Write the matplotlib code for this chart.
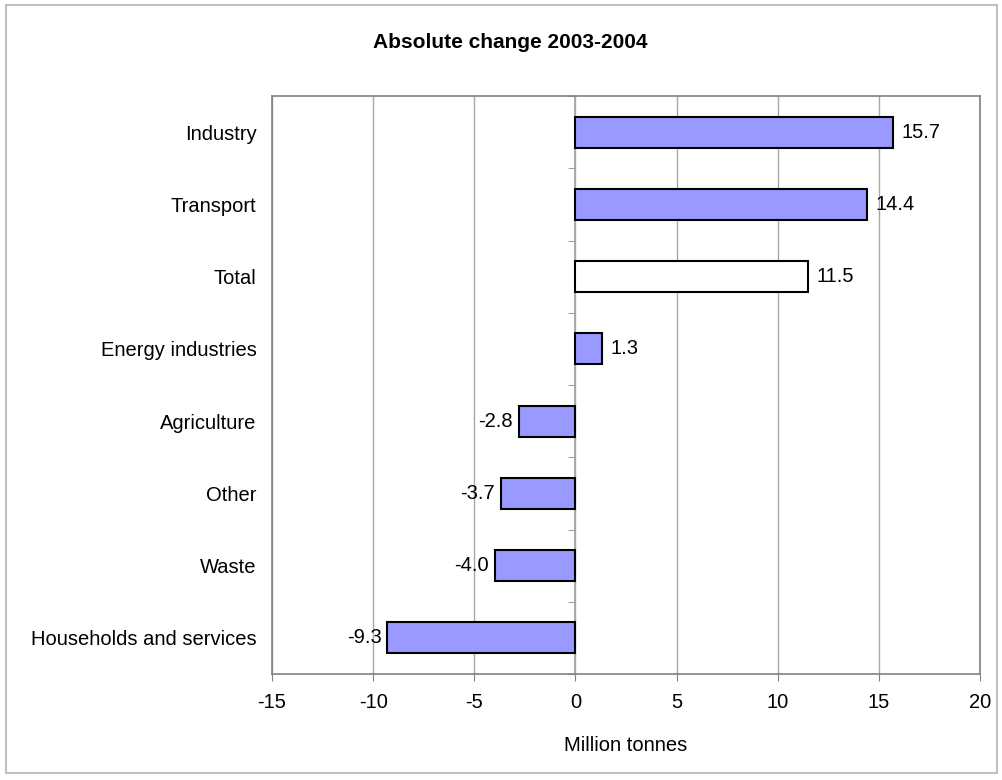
import matplotlib
matplotlib.use('Agg')
import matplotlib.pyplot as plt
import numpy as np

plt.rcParams['font.family'] = ['Liberation Sans', 'DejaVu Sans']

categories = ['Industry', 'Transport', 'Total', 'Energy industries',
              'Agriculture', 'Other', 'Waste', 'Households and services']
values = [15.7, 14.4, 11.5, 1.3, -2.8, -3.7, -4.0, -9.3]
value_labels = ['15.7', '14.4', '11.5', '1.3', '-2.8', '-3.7', '-4.0', '-9.3']
xticks = [-15, -10, -5, 0, 5, 10, 15, 20]

fig = plt.figure(figsize=(10.03, 7.8), dpi=100)
ax = fig.add_axes([272 / 1003, 1 - 674 / 780, 708 / 1003, 578 / 780])

y = np.arange(len(categories))
colors = ['white' if c == 'Total' else '#9999ff' for c in categories]
ax.barh(y, values, height=0.43, color=colors, edgecolor='black', linewidth=1.5, zorder=3)

xmin, xmax = xticks[0], xticks[-1]
ax.set_xlim(xmin, xmax)
ax.set_ylim(len(categories) - 0.5, -0.5)
ax.set_xticks(xticks)
ax.set_xticklabels([str(t) for t in xticks])
ax.set_yticks(y)
ax.set_yticklabels(categories)
ax.tick_params(axis='y', length=0, pad=11, labelsize=14.5)
ax.tick_params(axis='x', length=5, color='#808080', pad=9, labelsize=14.5)
ax.grid(axis='x', color='#a8a8a8', linewidth=1, zorder=0)
for s in ax.spines.values():
    s.set_color('#808080')
    s.set_linewidth(1.2)

# category axis at x = 0
sec = ax.secondary_yaxis((0 - xmin) / (xmax - xmin))
sec.set_yticks(np.arange(len(categories) + 1) - 0.5)
sec.set_yticklabels([])
sec.tick_params(length=5, color='#a0a0a0')
sec.spines['left'].set_color('#a0a0a0')
sec.spines['left'].set_linewidth(1.2)

for yi, v, lab in zip(y, values, value_labels):
    if v >= 0:
        ax.annotate(lab, (v, yi), xytext=(6, 0), textcoords='offset points',
                    ha='left', va='center', fontsize=14.5, zorder=4)
    else:
        ax.annotate(lab, (v, yi), xytext=(-4, 0), textcoords='offset points',
                    ha='right', va='center', fontsize=14.5, zorder=4)

ax.set_xlabel('Million tonnes', fontsize=14.5, labelpad=17)
fig.text(0.509, 1 - 42 / 780, 'Absolute change 2003-2004', ha='center', va='center',
         fontsize=15, fontweight='bold')

fig.patches.append(plt.Rectangle((6 / 1003, 1 - 773 / 780), 991 / 1003, 768 / 780,
                                 transform=fig.transFigure, fill=False,
                                 edgecolor='#c0c0c0', linewidth=1.5))

fig.savefig('out.png', dpi=100)
